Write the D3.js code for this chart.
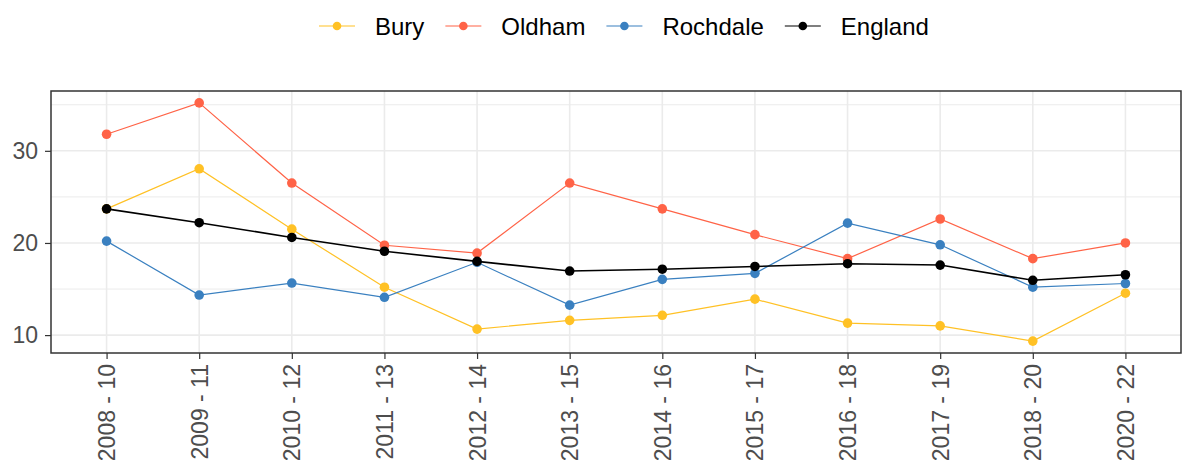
<!DOCTYPE html>
<html lang="en">
<head>
<meta charset="UTF-8">
<title>Bury, Oldham, Rochdale vs England</title>
<script src="https://d3js.org/d3.v7.min.js"></script>
<style>
  body { margin: 0; background: #fff; }
  svg text { font-family: "Liberation Sans", Arial, sans-serif; }
</style>
</head>
<body>
<div id="chart"></div>
<script>
// data
const periods = ["2008 - 10", "2009 - 11", "2010 - 12", "2011 - 13", "2012 - 14", "2013 - 15",
                 "2014 - 16", "2015 - 17", "2016 - 18", "2017 - 19", "2018 - 20", "2020 - 22"];
const bury     = [23.7, 28.05, 21.5, 15.2, 10.65, 11.6, 12.15, 13.9, 11.3, 11.0, 9.35, 14.55];
const oldham   = [31.8, 35.2, 26.5, 19.75, 18.9, 26.5, 23.7, 20.9, 18.3, 22.6, 18.3, 20.0];
const rochdale = [20.2, 14.35, 15.65, 14.1, 17.9, 13.25, 16.05, 16.7, 22.15, 19.8, 15.2, 15.6];
const england  = [23.7, 22.2, 20.6, 19.1, 18.0, 16.95, 17.15, 17.45, 17.75, 17.6, 15.95, 16.55];
const seriesNames = ["Bury", "Oldham", "Rochdale", "England"];
const colours = ["#FFC125", "#FF6347", "#3A80C0", "#000000"];
const yTicks = [10, 20, 30];
const yMinor = [15, 25, 35];

const W = 1184, H = 469;
const margin = { top: 91, right: 3, bottom: 116, left: 51 };
const width = W - margin.left - margin.right;
const height = H - margin.top - margin.bottom;

const svg = d3.select("#chart").append("svg")
    .attr("width", W)
    .attr("height", H);

const g = svg.append("g")
    .attr("transform", `translate(${margin.left},${margin.top})`);

// ggplot style discrete axis: 0.6 step padding each side
const x = d3.scalePoint()
    .domain(periods)
    .range([0, width])
    .padding(0.6);

const allVals = bury.concat(oldham, rochdale, england);
const lo = d3.min(allVals), hi = d3.max(allVals);
const pad = (hi - lo) * 0.05;
const y = d3.scaleLinear()
    .domain([lo - pad, hi + pad])
    .range([height, 0]);

// grid
g.selectAll(".minor").data(yMinor).join("line")
    .attr("x1", 0).attr("x2", width)
    .attr("y1", d => y(d)).attr("y2", d => y(d))
    .attr("stroke", "#EBEBEB").attr("stroke-width", 1);
g.selectAll(".major").data(yTicks).join("line")
    .attr("x1", 0).attr("x2", width)
    .attr("y1", d => y(d)).attr("y2", d => y(d))
    .attr("stroke", "#EBEBEB").attr("stroke-width", 1.6);
g.selectAll(".vgrid").data(periods).join("line")
    .attr("x1", d => x(d)).attr("x2", d => x(d))
    .attr("y1", 0).attr("y2", height)
    .attr("stroke", "#EBEBEB").attr("stroke-width", 1.6);

// lines + points
const series = [bury, oldham, rochdale, england];
const line = d3.line()
    .x((d, i) => x(periods[i]))
    .y(d => y(d));

series.forEach((vals, k) => {
    g.append("path")
        .datum(vals)
        .attr("fill", "none")
        .attr("stroke", colours[k])
        .attr("stroke-width", k === 3 ? 1.6 : 1.2)
        .attr("d", line);
    g.selectAll(".pt" + k).data(vals).join("circle")
        .attr("cx", (d, i) => x(periods[i]))
        .attr("cy", d => y(d))
        .attr("r", 4.8)
        .attr("fill", colours[k]);
});

// panel border
g.append("rect")
    .attr("width", width).attr("height", height)
    .attr("fill", "none")
    .attr("stroke", "#333333").attr("stroke-width", 1.5);

// axes
const yAxis = g.append("g")
    .call(d3.axisLeft(y).tickValues(yTicks).tickSize(6).tickPadding(7));
yAxis.select(".domain").remove();
yAxis.selectAll("line").attr("stroke", "#333333").attr("stroke-width", 1.2);
yAxis.selectAll("text")
    .attr("fill", "#4D4D4D")
    .style("font-size", "23px");

const xAxis = g.append("g")
    .attr("transform", `translate(0,${height})`)
    .call(d3.axisBottom(x).tickSize(6).tickPadding(6));
xAxis.select(".domain").remove();
xAxis.selectAll("line").attr("stroke", "#333333").attr("stroke-width", 1.2);
xAxis.selectAll("text")
    .attr("fill", "#4D4D4D")
    .style("font-size", "23px")
    .attr("transform", "rotate(-90)")
    .attr("text-anchor", "end")
    .attr("dominant-baseline", "central")
    .attr("dy", null)
    .attr("x", -11)
    .attr("y", 0);

// legend
const legend = svg.append("g").attr("transform", "translate(319,26)");
let lx = 0;
seriesNames.forEach((name, k) => {
    const item = legend.append("g").attr("transform", `translate(${lx},0)`);
    item.append("line")
        .attr("x1", 0).attr("x2", 36)
        .attr("stroke", colours[k]).attr("stroke-width", 1.2);
    item.append("circle")
        .attr("cx", 18).attr("r", 4.3)
        .attr("fill", colours[k]);
    const t = item.append("text")
        .attr("x", 56)
        .attr("dominant-baseline", "central")
        .attr("fill", "#000")
        .style("font-size", "24px")
        .text(name);
    lx += 56 + t.node().getComputedTextLength() + 21;
});
</script>
</body>
</html>
